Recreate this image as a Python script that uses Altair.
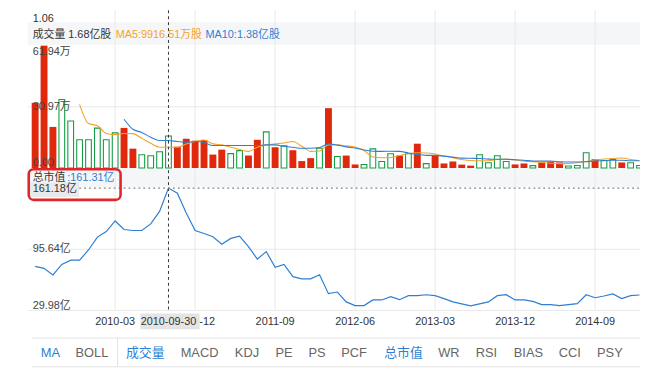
import altair as alt
import pandas as pd

FONT = "Liberation Sans, Noto Sans CJK SC, sans-serif"
RED = "#e0280d"
GREEN = "#169c45"
ORANGE = "#f5a327"
BLUE = "#2e7fd3"
TEXT = "#333333"
GRID = "#e9e9e9"
BAND = "#f5f6f8"

# ---------------- data ----------------
months = [str(p) for p in pd.period_range("2009-06", periods=69, freq="M")]

volume = [33.0, 61.94, 20.8, 34.7, 23.8, 14.3, 14.3, 20.2, 14.3, 17.8,
          20.3, 9.8, 6.7, 6.2, 8.2, 16.2, 10.8, 14.8, 13.8, 14.2,
          6.8, 9.3, 7.3, 8.8, 6.3, 14.3, 18.3, 10.5, 11.2, 9.0,
          3.5, 5.0, 10.0, 30.3, 5.8, 6.3, 1.8, 1.8, 9.7, 3.3,
          7.2, 6.3, 7.2, 12.3, 2.2, 6.2, 2.3, 3.3, 1.7, 1.2,
          6.7, 2.7, 6.2, 3.3, 1.8, 2.3, 1.2, 2.8, 3.2, 2.8,
          1.0, 1.3, 7.7, 4.5, 3.8, 4.3, 2.8, 2.7, 1.3]

rising = [1, 1, 1, 0, 0, 0, 0, 0, 0, 0,
          1, 1, 0, 0, 0, 0, 1, 1, 1, 1,
          1, 1, 0, 0, 1, 1, 0, 1, 0, 1,
          1, 1, 0, 1, 0, 1, 1, 0, 0, 0,
          0, 1, 0, 1, 0, 1, 1, 1, 1, 1,
          0, 0, 0, 0, 1, 1, 0, 1, 1, 1,
          0, 0, 0, 1, 0, 0, 1, 0, 0]

ma5 = [32.2, 22.5, 21.4, 17.5, 16.9, 17.5, 17.4, 15.0, 12.5, 10.5,
       10.5, 10.5, 12.2, 13.4, 14.2, 12.2, 11.7, 10.5, 9.4, 8.4,
       10.5, 11.7, 12.2, 12.7, 13.4, 11.0, 8.4, 8.6, 11.7, 11.7,
       11.2, 10.6, 8.9, 5.6, 5.2, 5.3, 6.3, 7.3, 7.7, 7.6,
       7.1, 6.1, 5.2, 4.3, 3.8, 3.7, 3.7, 4.3, 4.5, 4.1,
       3.5, 3.2, 2.8, 2.4, 2.2, 2.3, 2.7, 3.3, 4.1, 4.6,
       4.8, 5.1, 4.3, 3.8]

ma10 = [24.7, 19.6, 18.0, 15.6, 13.9, 13.9, 13.4, 13.0, 13.4, 12.9,
        11.4, 11.4, 11.4, 11.4, 11.4, 11.4, 11.7, 11.7, 11.0, 10.5,
        10.0, 10.0, 10.4, 12.2, 11.6, 10.7, 10.1, 9.1, 8.5, 8.4,
        8.5, 8.4, 7.6, 6.8, 6.4, 6.4, 6.0, 5.5, 5.0, 4.9,
        4.8, 4.5, 4.4, 4.4, 4.2, 3.9, 3.5, 3.5, 3.5, 3.2,
        3.0, 3.0, 3.2, 3.5, 3.7, 3.9, 3.9, 3.7, 3.7]

market_cap = [77.3, 75.2, 68.1, 79.4, 84.0, 84.0, 94.9, 108.7, 114.7, 126.0,
              116.8, 115.8, 115.8, 122.9, 136.2, 161.31, 155.7, 134.5, 115.8, 112.6,
              109.1, 101.0, 107.3, 109.7, 98.5, 85.0, 93.2, 76.3, 79.4, 66.3,
              63.9, 63.9, 68.4, 48.0, 49.8, 39.2, 35.3, 35.3, 41.3, 41.3,
              44.8, 41.6, 45.9, 45.9, 46.9, 45.9, 42.7, 39.2, 37.1, 35.0,
              37.1, 39.2, 45.9, 46.9, 41.3, 41.3, 39.8, 36.3, 36.3, 35.3,
              36.3, 37.4, 46.9, 43.7, 45.5, 47.7, 42.7, 45.9, 46.6]

tick_months = ["2010-03", "2010-12", "2011-09", "2012-06", "2013-03", "2013-12", "2014-09"]
cross_month = "2010-09"
cross_label = "2010-09-30"

vol_ticks = [61.94, 30.97, 0.0]
vol_tick_labels = ["61.94万", "30.97万", "0.00"]
cap_ticks = [95.64, 29.98]
cap_tick_labels = ["95.64亿", "29.98亿"]

tabs = ["MA", "BOLL", "成交量", "MACD", "KDJ", "PE", "PS", "PCF", "总市值", "WR", "RSI", "BIAS", "CCI", "PSY"]
tab_active = [1, 0, 1, 0, 0, 0, 0, 0, 1, 0, 0, 0, 0, 0]

# ---------------- layout (pixels) ----------------
tab_centers = [43, 85, 139, 194, 242, 279.5, 313, 350.5, 400.5, 446.5, 484.5, 527, 569, 609.5]

XS = alt.Scale(type="band", domain=months, range=[23, 644], paddingInner=0, paddingOuter=0)
VS = alt.Scale(domain=[0, 61.94], range=[159.7, 35.8], nice=False)
CS = alt.Scale(domain=[29.98, 161.31], range=[304, 180], nice=False, zero=False)


def X(field="m"):
    return alt.X(f"{field}:O", scale=XS, axis=None)


one = pd.DataFrame({"t": [""]})


def ptext(txt, x, y, color=TEXT, size=11, align="left", baseline="middle"):
    return alt.Chart(pd.DataFrame({"t": [txt]})).mark_text(
        align=align, baseline=baseline, color=color, fontSize=size, font=FONT
    ).encode(x=alt.value(x), y=alt.value(y), text="t:N")


def prect(x0, x1, y0, y1, **kw):
    return alt.Chart(one).mark_rect(**kw).encode(
        x=alt.value(x0), x2=alt.value(x1), y=alt.value(y0), y2=alt.value(y1)
    )


def hrule(x0, x1, y, **kw):
    return alt.Chart(one).mark_rule(**kw).encode(
        x=alt.value(x0), x2=alt.value(x1), y=alt.value(y)
    )


def vrule(x, y0, y1, **kw):
    return alt.Chart(one).mark_rule(**kw).encode(
        x=alt.value(x), y=alt.value(y0), y2=alt.value(y1)
    )


df_vol = pd.DataFrame({"m": months, "v": volume, "up": rising})
df_ma5 = pd.DataFrame({"m": months[5:], "v": ma5})
df_ma10 = pd.DataFrame({"m": months[10:], "v": ma10})
df_cap = pd.DataFrame({"m": months, "v": market_cap})
df_ticks = pd.DataFrame({"m": tick_months})
df_cross = pd.DataFrame({"m": [cross_month], "t": [cross_label]})

layers = []

# backgrounds
layers.append(prect(20, 640, 12, 35, color=BAND))
layers.append(prect(20, 640, 160, 179, color=BAND))

# vertical grid lines
layers.append(alt.Chart(df_ticks).mark_rule(color=GRID, strokeWidth=1).encode(
    x=X(), y=alt.value(0), y2=alt.value(304)))

# horizontal grid lines
layers.append(alt.Chart(pd.DataFrame({"v": [30.97]})).mark_rule(color=GRID).encode(
    y=alt.Y("v:Q", scale=VS, axis=None), x=alt.value(20), x2=alt.value(640)))
layers.append(alt.Chart(pd.DataFrame({"v": cap_ticks})).mark_rule(color=GRID).encode(
    y=alt.Y("v:Q", scale=CS, axis=None), x=alt.value(20), x2=alt.value(640)))

# volume bars
layers.append(alt.Chart(df_vol).transform_filter("datum.up == 1").mark_bar(
    size=7, color=RED).encode(
    x=X(), y=alt.Y("v:Q", scale=VS, axis=None), y2=alt.datum(0)))
layers.append(alt.Chart(df_vol).transform_filter("datum.up == 0").mark_bar(
    size=5.8, fill="white", stroke=GREEN, strokeWidth=1.1).encode(
    x=X(), y=alt.Y("v:Q", scale=VS, axis=None), y2=alt.datum(0)))

# moving averages
layers.append(alt.Chart(df_ma5).mark_line(color=ORANGE, strokeWidth=1.1, interpolate="monotone").encode(
    x=X(), y=alt.Y("v:Q", scale=VS, axis=None)))
layers.append(alt.Chart(df_ma10).mark_line(color=BLUE, strokeWidth=1.1, interpolate="monotone").encode(
    x=X(), y=alt.Y("v:Q", scale=VS, axis=None)))

# market cap line
layers.append(alt.Chart(df_cap).mark_line(color=BLUE, strokeWidth=1.2).encode(
    x=X(), y=alt.Y("v:Q", scale=CS, axis=None)))

# crosshair
layers.append(alt.Chart(df_cross).mark_rule(color="#333333", strokeDash=[3, 3], strokeWidth=1).encode(
    x=X(), y=alt.value(0), y2=alt.value(304)))
layers.append(hrule(72, 640, 180, color="#888888", strokeDash=[2, 3], strokeWidth=1.2))

# volume axis labels
for val, lab, base in zip(vol_ticks, vol_tick_labels, ["top", "middle", "bottom"]):
    layers.append(alt.Chart(pd.DataFrame({"v": [val], "t": [lab]})).mark_text(
        align="left", baseline=base, color="#444444", fontSize=11, font=FONT).encode(
        x=alt.value(25), y=alt.Y("v:Q", scale=VS, axis=None), text="t:N"))

# cap axis labels
for val, lab, base in zip(cap_ticks, cap_tick_labels, ["middle", "bottom"]):
    layers.append(alt.Chart(pd.DataFrame({"v": [val], "t": [lab]})).mark_text(
        align="left", baseline=base, color="#444444", fontSize=11, font=FONT).encode(
        x=alt.value(25), y=alt.Y("v:Q", scale=CS, axis=None), text="t:N"))

# header texts
layers.append(ptext("1.06", 25, 9))
layers.append(ptext("成交量 1.68亿股", 25, 25))
layers.append(ptext("MA5:9916.51万股", 109, 25, color=ORANGE))
layers.append(ptext("MA10:1.38亿股", 200, 25, color=BLUE))

# market cap header + crosshair label
layers.append(ptext("总市值", 25, 170))
layers.append(ptext(":161.31亿", 60, 170, color=BLUE))
layers.append(prect(22, 72, 174, 189, color="#e9eaec"))
layers.append(ptext("161.18亿", 25, 181.5))
layers.append(prect(21, 114, 161, 192, fillOpacity=0, stroke="#e3242b", strokeWidth=2.6, cornerRadius=5))

# x labels
layers.append(alt.Chart(df_ticks).mark_text(
    baseline="middle", align="center", color=TEXT, fontSize=11, font=FONT).encode(
    x=X(), y=alt.value(316), text="m:N"))
layers.append(prect(134, 194, 307, 323, color="#e4e4e4"))
layers.append(alt.Chart(df_cross).mark_text(
    baseline="middle", align="center", color=TEXT, fontSize=11, font=FONT).encode(
    x=X(), y=alt.value(316), text="t:N"))

# tab bar
layers.append(hrule(24, 640, 332, color="#e3e3e3"))
layers.append(hrule(24, 640, 361, color="#e3e3e3"))
layers.append(vrule(111, 332, 361, color="#e3e3e3"))
df_tabs = pd.DataFrame({"t": tabs, "a": tab_active, "x": tab_centers})
layers.append(alt.Chart(df_tabs).mark_text(
    baseline="middle", align="center", fontSize=13, font=FONT).encode(
    x=alt.X("x:Q", scale=None), y=alt.value(347), text="t:N",
    color=alt.Color("a:N", scale=alt.Scale(domain=[0, 1], range=["#666666", "#2e7fd3"]), legend=None)))

chart = alt.layer(*layers).resolve_scale(y="independent").properties(
    width=640, height=368, padding=0, autosize="none", background="white"
).configure_view(stroke=None)

chart.save("out.html", embed_options={"renderer": "svg", "actions": False})
